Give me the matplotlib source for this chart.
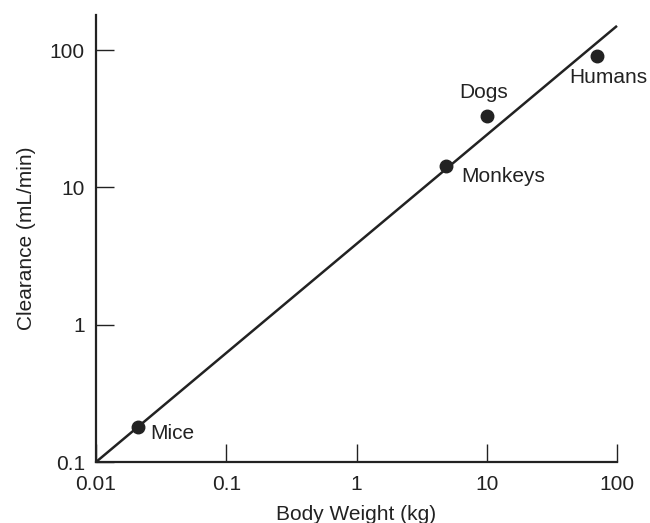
import matplotlib
matplotlib.use("Agg")
import matplotlib.pyplot as plt

# species data
species = ["Mice", "Monkeys", "Dogs", "Humans"]
body_weight = [0.021, 4.9, 10.0, 70.0]
clearance = [0.18, 14.2, 33.0, 90.0]

# fitted allometric line (end points)
line_x = [0.01, 100.0]
line_y = [0.1, 150.0]

x_ticks = [0.01, 0.1, 1, 10, 100]
x_tick_labels = ["0.01", "0.1", "1", "10", "100"]
y_ticks = [0.1, 1, 10, 100]
y_tick_labels = ["0.1", "1", "10", "100"]

# label offsets in points relative to each dot
label_offsets = {
    "Mice": (8.5, -4.5),
    "Monkeys": (11, -7.5),
    "Dogs": (-20, 17),
    "Humans": (-19.5, -15.5),
}

plt.rcParams["font.family"] = ["Liberation Sans", "DejaVu Sans"]
ink = "#222222"

fig = plt.figure(figsize=(6.5, 5.23), dpi=100)
ax = fig.add_axes([96 / 650, 61 / 523, 521 / 650, 447 / 523])

ax.plot(line_x, line_y, color=ink, lw=1.8, solid_capstyle="butt", clip_on=False)
ax.plot(body_weight, clearance, "o", color=ink, ms=9, clip_on=False)

for name, x, y in zip(species, body_weight, clearance):
    dx, dy = label_offsets[name]
    ax.annotate(name, (x, y), xytext=(dx, dy), textcoords="offset points",
                ha="left", va="center", fontsize=15, color=ink)

ax.set_xscale("log")
ax.set_yscale("log")
ax.set_xlim(0.01, 100)
ax.set_ylim(0.1, 180)
ax.set_xticks(x_ticks)
ax.set_xticklabels(x_tick_labels)
ax.set_yticks(y_ticks)
ax.set_yticklabels(y_tick_labels)
ax.minorticks_off()

ax.spines["top"].set_visible(False)
ax.spines["right"].set_visible(False)
for s in ["left", "bottom"]:
    ax.spines[s].set_linewidth(1.6)
    ax.spines[s].set_color(ink)

ax.tick_params(direction="in", length=13, width=1.0, color=ink,
               labelsize=15, labelcolor=ink)
ax.tick_params(axis="x", pad=9)
ax.tick_params(axis="y", pad=8)

ax.set_xlabel("Body Weight (kg)", fontsize=15, color=ink, labelpad=8)
ax.set_ylabel("Clearance (mL/min)", fontsize=15, color=ink, labelpad=10)

fig.savefig("out.png", dpi=100)
